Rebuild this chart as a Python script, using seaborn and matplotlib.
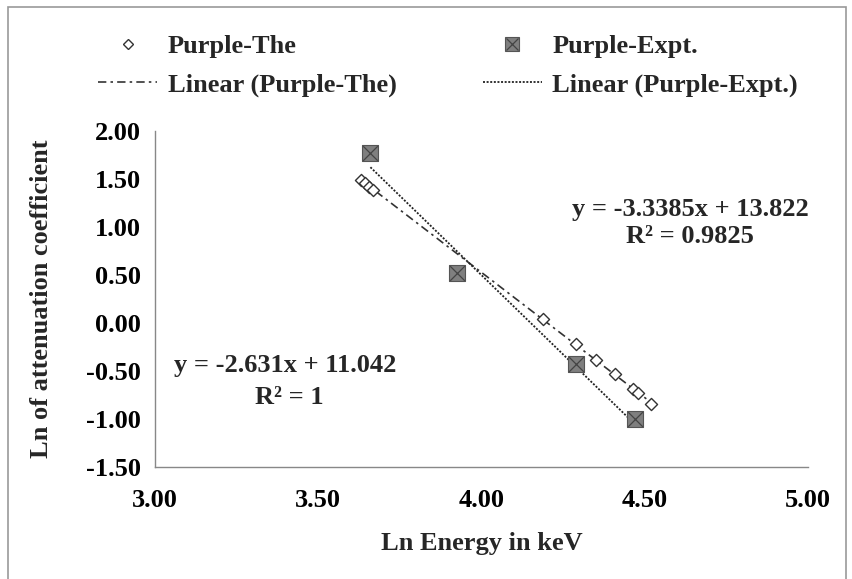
import numpy as np
import pandas as pd
import matplotlib
matplotlib.use("Agg")
import matplotlib.pyplot as plt
import seaborn as sns
from matplotlib.ticker import MultipleLocator, FormatStrFormatter
from matplotlib.patches import Rectangle
from matplotlib.lines import Line2D
from matplotlib.legend_handler import HandlerTuple

# data
the_x = [3.630, 3.643, 3.656, 3.669, 4.19, 4.29, 4.35, 4.41, 4.465, 4.48, 4.52]
the_y = [1.49, 1.46, 1.42, 1.39, 0.04, -0.22, -0.38, -0.53, -0.69, -0.73, -0.84]
expt_x = [3.66, 3.925, 4.29, 4.47]
expt_y = [1.77, 0.52, -0.43, -1.00]

eq_expt = ["y = -3.3385x + 13.822", "R² = 0.9825"]
eq_the = ["y = -2.631x + 11.042", "R² = 1"]
legend_labels = ["Purple-The", "Linear (Purple-The)", "Purple-Expt.", "Linear (Purple-Expt.)"]

df_the = pd.DataFrame({"x": the_x, "y": the_y})
df_expt = pd.DataFrame({"x": expt_x, "y": expt_y})

sns.set_theme(style="white")
plt.rcParams["font.family"] = ["Liberation Serif", "DejaVu Serif"]
plt.rcParams["font.weight"] = "bold"
FS = 19

fig = plt.figure(figsize=(8.53, 5.79), dpi=100)
ax = fig.add_axes([0.1817, 0.1934, 0.7653, 0.5803])

dashdot = (0, (5, 2.5, 1.5, 2.5))
dotted = (0, (1.1, 0.9))

# trend lines
sns.regplot(data=df_the, x="x", y="y", scatter=False, ci=None, ax=ax,
            line_kws=dict(color="#333333", lw=1.2, ls=dashdot))
sns.regplot(data=df_expt, x="x", y="y", scatter=False, ci=None, ax=ax,
            line_kws=dict(color="#222222", lw=1.3, ls=dotted))

# markers
sns.scatterplot(data=df_the, x="x", y="y", marker="D", s=38, color="white",
                edgecolor="#333333", linewidth=1.0, ax=ax, zorder=4, legend=False)
sns.scatterplot(data=df_expt, x="x", y="y", marker="s", s=140, color="#7f7f7f",
                edgecolor="#555555", linewidth=0.8, ax=ax, zorder=4, legend=False)
sns.scatterplot(data=df_expt, x="x", y="y", marker="x", s=110, color="#444444",
                linewidth=0.9, ax=ax, zorder=5, legend=False)

ax.set_xlim(3.0, 5.0)
ax.set_ylim(-1.5, 2.0)
ax.xaxis.set_major_locator(MultipleLocator(0.5))
ax.xaxis.set_minor_locator(MultipleLocator(0.1))
ax.yaxis.set_major_locator(MultipleLocator(0.5))
ax.yaxis.set_minor_locator(MultipleLocator(0.1))
ax.xaxis.set_major_formatter(FormatStrFormatter("%.2f"))
ax.yaxis.set_major_formatter(FormatStrFormatter("%.2f"))
ax.tick_params(which="both", direction="in", colors="#888888",
               labelcolor="black", labelsize=FS)
ax.tick_params(axis="x", which="major", length=7, width=0.8, pad=16)
ax.tick_params(axis="x", which="minor", length=4, width=0.8)
ax.tick_params(axis="y", which="major", length=5, width=0.8, pad=10)
ax.tick_params(axis="y", which="minor", length=5, width=0.8)
for lab in ax.get_xticklabels() + ax.get_yticklabels():
    lab.set_fontweight("bold")

for side in ["top", "right"]:
    ax.spines[side].set_visible(False)
for side in ["left", "bottom"]:
    ax.spines[side].set_color("#888888")
    ax.spines[side].set_linewidth(1.0)

ax.set_xlabel("Ln Energy in keV", fontsize=FS, fontweight="bold", labelpad=14)
ax.set_ylabel("Ln of attenuation coefficient", fontsize=FS, fontweight="bold", labelpad=24)

ax.text(4.64, 1.18, eq_expt[0], fontsize=FS, fontweight="bold", ha="center", va="center")
ax.text(4.64, 0.90, eq_expt[1], fontsize=FS, fontweight="bold", ha="center", va="center")
ax.text(3.40, -0.44, eq_the[0], fontsize=FS, fontweight="bold", ha="center", va="center")
ax.text(3.41, -0.78, eq_the[1], fontsize=FS, fontweight="bold", ha="center", va="center")

# legend
sq = Line2D([], [], ls="none", marker="s", ms=10, mfc="#7f7f7f", mec="#555555", mew=0.8)
sqx = Line2D([], [], ls="none", marker="x", ms=8, mec="#444444", mew=0.9)
handles = [
    Line2D([], [], ls="none", marker="D", ms=5, mfc="white", mec="#333333", mew=1.0),
    Line2D([], [], color="#333333", lw=1.2, ls=dashdot),
    (sq, sqx),
    Line2D([], [], color="#222222", lw=1.3, ls=dotted),
]
fig.legend(handles, legend_labels, ncol=2, loc="upper left",
           bbox_to_anchor=(98 / 853, 1 - 35 / 579),
           frameon=False, prop={"weight": "bold", "size": FS},
           handler_map={tuple: HandlerTuple(ndivide=1, pad=0)},
           borderpad=0, borderaxespad=0,
           handlelength=2.25, columnspacing=3.25, labelspacing=0.55, handletextpad=0.4)

fig.patches.append(Rectangle((8 / 853, -0.1), (846 - 8) / 853, 1 - 7 / 579 + 0.1,
                             transform=fig.transFigure, fill=False,
                             edgecolor="#999999", lw=1.2))

fig.savefig("out.png", dpi=100)
